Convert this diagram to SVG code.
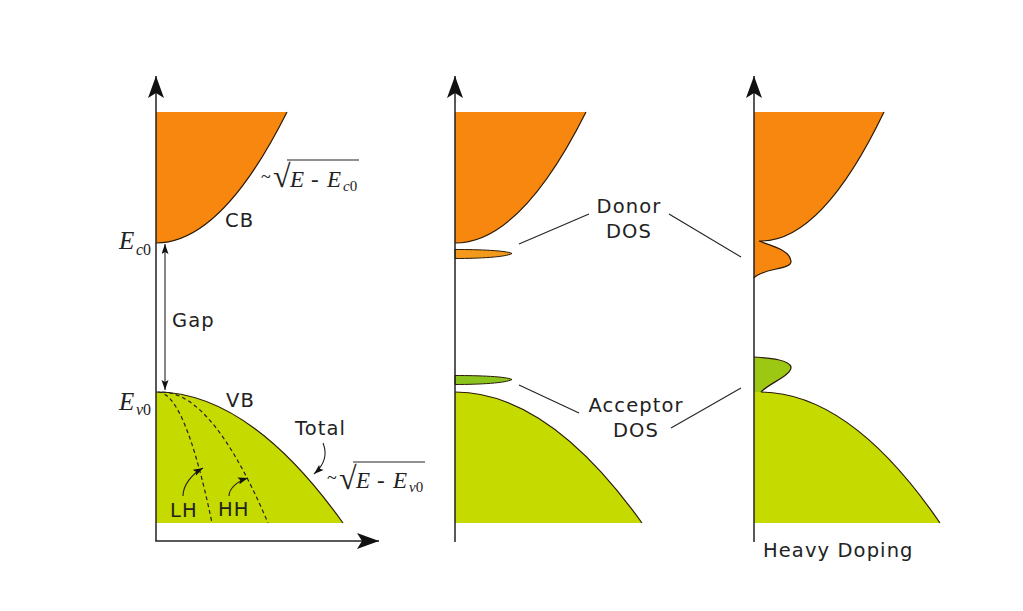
<svg xmlns="http://www.w3.org/2000/svg" width="1023" height="611" viewBox="0 0 1023 611">
<style>
.lbl{font-family:"DejaVu Sans",Verdana,sans-serif;font-size:19.5px;letter-spacing:1.1px;fill:#222}
.mth{font-family:"Liberation Serif","Times New Roman",serif;fill:#222}
.it{font-style:italic}
.cb{fill:#f7870f}
.vb{fill:#c5db00}
.edge{fill:none;stroke:#2a1a05;stroke-width:1.2}
.axis{stroke:#222;stroke-width:1.5;fill:none}
.thin{stroke:#222;stroke-width:1.1;fill:none}
.dash{stroke:#222;stroke-width:1.2;fill:none;stroke-dasharray:4 3}
</style>
<defs>
<marker id="big" markerWidth="24" markerHeight="18" refX="22" refY="8" orient="auto" markerUnits="userSpaceOnUse">
<path d="M22,8 L0,0 L5,8 L0,16 Z" fill="#111"/>
</marker>
<marker id="sm" markerWidth="12" markerHeight="8" refX="10" refY="3.5" orient="auto" markerUnits="userSpaceOnUse">
<path d="M10,3.5 L0,0 L2,3.5 L0,7 Z" fill="#111"/>
</marker>
</defs>
<rect width="1023" height="611" fill="#fff"/>

<g id="panel1">
<path class="cb" d="M156,112 L287,112 Q221.5,243 156,243 Z"/>
<path class="edge" d="M287,112 Q221.5,243 156,243"/>
<path class="vb" d="M156,392 Q249.5,392 343,523 L156,523 Z"/>
<path class="edge" d="M156,392 Q249.5,392 343,523"/>
<path class="dash" d="M158,392 Q185,393 212,523"/>
<path class="dash" d="M162,392 Q213,393 268,523"/>
</g>

<g id="panel2">
<path class="cb" d="M455,112 L586,112 Q520.5,243 455,243 Z"/>
<path class="edge" d="M586,112 Q520.5,243 455,243"/>
<path d="M455,249.5 C480,249.5 506,250.5 512,253.5 C506,257 480,258.5 455,258.5 Z" fill="#f39a1c" stroke="#2a1a05" stroke-width="1"/>
<path d="M455,375.5 C480,375.5 506,376.5 512,379.5 C506,383 480,384.5 455,384.5 Z" fill="#8cc41e" stroke="#2a1a05" stroke-width="1"/>
<path class="vb" d="M455,392 Q548.5,392 642,523 L455,523 Z"/>
<path class="edge" d="M455,392 Q548.5,392 642,523"/>
</g>

<g id="panel3">
<path class="cb" d="M754,112 L884,112 Q821,243 759,241 C772,246 790,250 791,261 C792,270 762,268 754,278 Z"/>
<path class="edge" d="M884,112 Q821,243 759,241 C772,246 790,250 791,261 C792,270 762,268 754,278"/>
<path d="M754,357 C766,358 789,359 791,367 C792,375 768,384 761,392 L754,392 Z" fill="#9cc814"/>
<path class="edge" d="M754,357 C766,358 789,359 791,367 C792,375 768,384 761,392"/>
<path class="vb" d="M754,392 L761,392 Q851,393 940,523 L754,523 Z"/>
<path class="edge" d="M761,392 Q851,393 940,523"/>
</g>

<g id="connectors">
<line class="axis" x1="156" y1="541" x2="156" y2="76" marker-end="url(#big)"/>
<line class="axis" x1="155.3" y1="541" x2="379" y2="541" marker-end="url(#big)"/>
<line class="axis" x1="455" y1="542" x2="455" y2="76" marker-end="url(#big)"/>
<line class="axis" x1="754" y1="542" x2="754" y2="76" marker-end="url(#big)"/>
<line class="thin" x1="165" y1="300" x2="165" y2="244" marker-end="url(#sm)"/>
<line class="thin" x1="165" y1="300" x2="165" y2="390" marker-end="url(#sm)"/>
<path class="thin" d="M323,443 C328,455 323,466 314,474" marker-end="url(#sm)"/>
<path class="thin" d="M183,496 C183,485 192,474 203,468" marker-end="url(#sm)"/>
<path class="thin" d="M229,496 C229,488 238,481 248,478" marker-end="url(#sm)"/>
<line class="thin" x1="519" y1="244" x2="589" y2="214"/>
<line class="thin" x1="669" y1="214" x2="741" y2="257"/>
<line class="thin" x1="519" y1="385" x2="579" y2="413"/>
<line class="thin" x1="671" y1="428" x2="741" y2="388"/>
<line class="thin" x1="287" y1="160" x2="359" y2="160"/>
<line class="thin" x1="353" y1="462" x2="425" y2="462"/>
</g>

<g id="labels">
<text class="lbl" x="225" y="227">CB</text>
<text class="lbl" x="172" y="327">Gap</text>
<text class="lbl" x="226" y="407">VB</text>
<text class="lbl" x="295" y="435">Total</text>
<text class="lbl" x="170" y="517">LH</text>
<text class="lbl" x="218" y="516">HH</text>
<text class="lbl" x="629" y="213" text-anchor="middle">Donor</text>
<text class="lbl" x="629" y="238" text-anchor="middle">DOS</text>
<text class="lbl" x="636" y="412" text-anchor="middle">Acceptor</text>
<text class="lbl" x="636" y="437" text-anchor="middle">DOS</text>
<text class="lbl" x="763" y="557">Heavy Doping</text>

<text class="mth it" x="119" y="249" font-size="25">E</text>
<text class="mth" x="136" y="255" font-size="16"><tspan class="it">c</tspan>0</text>
<text class="mth it" x="119" y="410" font-size="25">E</text>
<text class="mth" x="136" y="415" font-size="16"><tspan class="it">v</tspan>0</text>

<text class="mth" x="261" y="183" font-size="18">~</text>
<text class="mth" x="273" y="187" font-size="32">√</text>
<text class="mth it" x="290" y="187" font-size="23">E</text>
<text class="mth" x="311" y="187" font-size="23">-</text>
<text class="mth it" x="327" y="187" font-size="23">E</text>
<text class="mth" x="343" y="191" font-size="15"><tspan class="it">c</tspan>0</text>

<text class="mth" x="327" y="484" font-size="18">~</text>
<text class="mth" x="339" y="489" font-size="32">√</text>
<text class="mth it" x="356" y="488" font-size="23">E</text>
<text class="mth" x="377" y="488" font-size="23">-</text>
<text class="mth it" x="393" y="488" font-size="23">E</text>
<text class="mth" x="409" y="492" font-size="15"><tspan class="it">v</tspan>0</text>
</g>
</svg>
